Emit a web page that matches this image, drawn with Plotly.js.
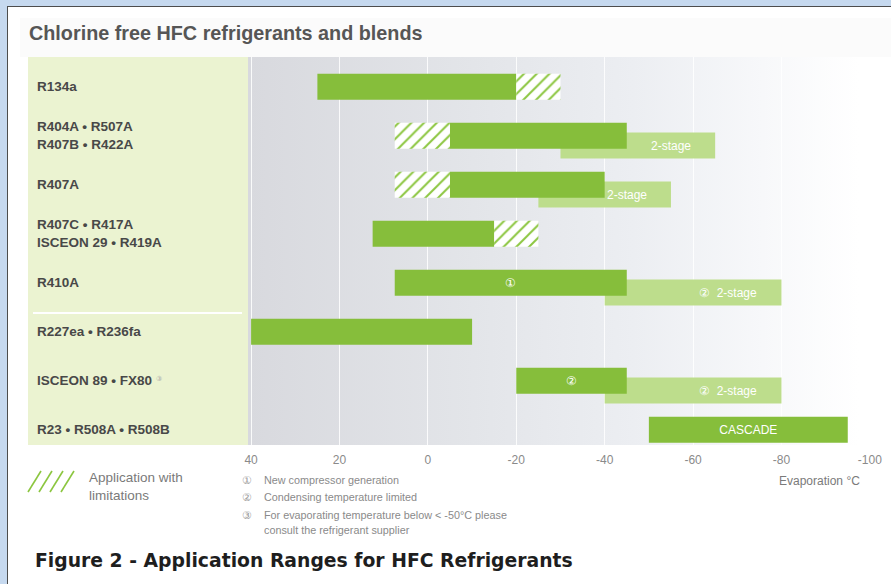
<!DOCTYPE html>
<html><head><meta charset="utf-8">
<script src="https://cdn.plot.ly/plotly-3.0.1.min.js"></script>
<style>
html,body{margin:0;padding:0;width:891px;height:584px;overflow:hidden;background:#c6d9ef;}
#frame{position:absolute;left:7px;top:6px;width:900px;height:600px;background:#fff;border-left:1.5px solid #4d4d4d;border-top:1.5px solid #4d4d4d;}
#titlebox{position:absolute;left:20px;top:18px;width:880px;height:39px;background:#fbfbfb;}
#grad{position:absolute;left:248px;top:57px;width:643px;height:388px;background:linear-gradient(to right,#d8d9de 0%,#e3e5e9 35%,#eceef2 60%,#f7f8fa 80%,#ffffff 95%);}
#chart{position:absolute;left:0;top:0;width:891px;height:584px;}
</style></head>
<body>
<div id="frame"></div>
<div id="titlebox"></div>
<div id="grad"></div>
<div id="chart"></div>
<script>
// ---- data (evaporation temperature ranges, °C) ----
const categories = [
  "R134a",
  "R404A • R507A<br>R407B • R422A",
  "R407A",
  "R407C • R417A<br>ISCEON 29 • R419A",
  "R410A",
  "R227ea • R236fa",
  "ISCEON 89 • FX80",
  "R23 • R508A • R508B"
];
const solidFrom    = [25,  -5,  -5, 12.5, 7.5, 40, -20, -50];
const solidTo      = [-20, -45, -40, -15, -45, -10, -45, -95];
const limitFrom    = [-20, 7.5, 7.5, -15, null, null, null, null];
const limitTo      = [-30, -5,  -5,  -25, null, null, null, null];
const twoStageFrom = [null, -30, -25, null, -40, null, -40, null];
const twoStageTo   = [null, -65, -55, null, -80, null, -80, null];
const solidNotes    = [null, null, null, null, "①", null, "②", "CASCADE"];
const twoStageNotes = ["", "2-stage", "2-stage", "", "②  2-stage", "", "②  2-stage", ""];
const labelSup      = ["", "", "", "", "", "", "③", ""];
const xTickVals  = [40, 20, 0, -20, -40, -60, -80, -100];
const xTickText  = ["40", "20", "0", "-20", "-40", "-60", "-80", "-100"];
const footnoteMarks = ["①", "②", "③", ""];
const footnotes = [
  "New compressor generation",
  "Condensing temperature limited",
  "For evaporating temperature below < -50°C please",
  "consult the refrigerant supplier"
];

// ---- geometry helpers (pixel -> paper) ----
const L = 248, R = 884, T = 57, B = 445;
const px = x => (x - L) / (R - L);
const py = y => (B - y) / (B - T);
const diff = (a, b) => a.map((v, i) => (v === null || b[i] === null) ? null : b[i] - v);

const GREEN = '#86be3b', LIGHT = '#bddd8c', HATCH = '#8cc640';

const traces = [
  {type: 'bar', orientation: 'h', y: categories, base: twoStageFrom, x: diff(twoStageFrom, twoStageTo),
   width: 0.53, offset: -0.065, marker: {color: LIGHT}, hoverinfo: 'skip', showlegend: false},
  {type: 'bar', orientation: 'h', y: categories, base: solidFrom, x: diff(solidFrom, solidTo),
   width: 0.53, offset: -0.265, marker: {color: GREEN},
   text: solidNotes, textposition: 'inside', insidetextanchor: 'middle', textangle: 0,
   constraintext: 'none', textfont: {color: '#ffffff', size: 12, family: 'Liberation Sans'},
   hoverinfo: 'skip', showlegend: false},
  {type: 'bar', orientation: 'h', y: categories, base: limitFrom, x: diff(limitFrom, limitTo),
   width: 0.53, offset: -0.265,
   marker: {color: '#ffffff', pattern: {shape: '/', fgcolor: HATCH, bgcolor: '#ffffff', size: 9, solidity: 0.22, fillmode: 'replace'}},
   hoverinfo: 'skip', showlegend: false}
];

const annotations = [];
categories.forEach((c, i) => {
  annotations.push({xref: 'paper', yref: 'y', x: px(35), y: c, xanchor: 'left', yanchor: 'middle', align: 'left',
    text: labelSup[i] ? c + " <span style='font-size:10px;color:#a8a8a8;font-weight:normal'><sup>" + labelSup[i] + "</sup></span>" : c,
    showarrow: false, font: {family: 'Liberation Sans', size: 13.5, color: '#484848', weight: 'bold'}});
  if (twoStageNotes[i]) {
    annotations.push({xref: 'x', yref: 'y', x: twoStageTo[i], y: c, xanchor: 'right', yanchor: 'middle',
      xshift: -22, yshift: -10, text: twoStageNotes[i], showarrow: false,
      font: {family: 'Liberation Sans', size: 12, color: '#ffffff'}});
  }
});
// footnotes
const fnY = [480, 497, 515, 530];
footnotes.forEach((t, i) => {
  if (footnoteMarks[i]) annotations.push({xref: 'paper', yref: 'paper', x: px(240), y: py(fnY[i]),
    xanchor: 'left', yanchor: 'middle', text: footnoteMarks[i], showarrow: false, font: {family: 'Liberation Sans', size: 10.5, color: '#9a9a9a'}});
  annotations.push({xref: 'paper', yref: 'paper', x: px(262), y: py(fnY[i]),
    xanchor: 'left', yanchor: 'middle', text: t, showarrow: false, font: {family: 'Liberation Sans', size: 10.8, color: '#8a8a8a'}});
});
// legend text
annotations.push({xref: 'paper', yref: 'paper', x: px(87), y: py(486), xanchor: 'left', yanchor: 'middle', align: 'left',
  text: 'Application with<br>limitations', showarrow: false, font: {family: 'Liberation Sans', size: 13.5, color: '#7a7a7a'}});
// axis title
annotations.push({xref: 'paper', yref: 'paper', x: px(862), y: py(481), xanchor: 'right', yanchor: 'middle',
  text: 'Evaporation °C', showarrow: false, font: {family: 'Liberation Sans', size: 12, color: '#7a7a7a'}});
// figure caption
annotations.push({xref: 'paper', yref: 'paper', x: px(33), y: py(560), xanchor: 'left', yanchor: 'middle',
  text: '<b>Figure 2 - Application Ranges for HFC Refrigerants</b>', showarrow: false,
  font: {family: 'DejaVu Sans', size: 18.8, color: '#1e1e1e'}});

const shapes = [
  {type: 'rect', xref: 'paper', yref: 'paper', x0: px(28), x1: 0, y0: 0, y1: 1, fillcolor: '#ebf3d1', line: {width: 0}, layer: 'below'},
  {type: 'line', xref: 'paper', yref: 'paper', x0: px(33), x1: px(242), y0: py(313), y1: py(313), line: {color: '#ffffff', width: 2}, layer: 'below'}
];
// hatched legend icon
for (let k = 0; k < 4; k++) {
  shapes.push({type: 'line', xref: 'paper', yref: 'paper', x0: px(28 + 11 * k), y0: py(492), x1: px(41 + 11 * k), y1: py(471),
    line: {color: HATCH, width: 1.6}});
}

const layout = {
  width: 891, height: 584,
  margin: {l: L, r: 891 - R, t: T, b: 584 - B, pad: 0},
  paper_bgcolor: 'rgba(0,0,0,0)', plot_bgcolor: 'rgba(0,0,0,0)',
  barmode: 'overlay',
  showlegend: false,
  title: {text: '<b>Chlorine free HFC refrigerants and blends</b>', x: 29 / 891, xanchor: 'left', xref: 'container',
    y: 1 - 33 / 584, yanchor: 'middle', yref: 'container', font: {family: 'Liberation Sans', size: 19.8, color: '#565656'}},
  xaxis: {range: [40.7, -103.2], tickvals: xTickVals, ticktext: xTickText, showgrid: true, gridcolor: 'rgba(255,255,255,0.85)',
    gridwidth: 1, zeroline: false, showline: false, ticks: '', ticklabelstandoff: 6,
    tickfont: {family: 'Liberation Sans', size: 12, color: '#8a8a8a'}, fixedrange: true},
  yaxis: {type: 'category', categoryarray: categories, range: [7.311, -0.607], showticklabels: false,
    showgrid: false, zeroline: false, showline: false, ticks: '', fixedrange: true},
  annotations: annotations,
  shapes: shapes
};

Plotly.newPlot('chart', traces, layout, {staticPlot: true, displayModeBar: false});
</script>
</body></html>
